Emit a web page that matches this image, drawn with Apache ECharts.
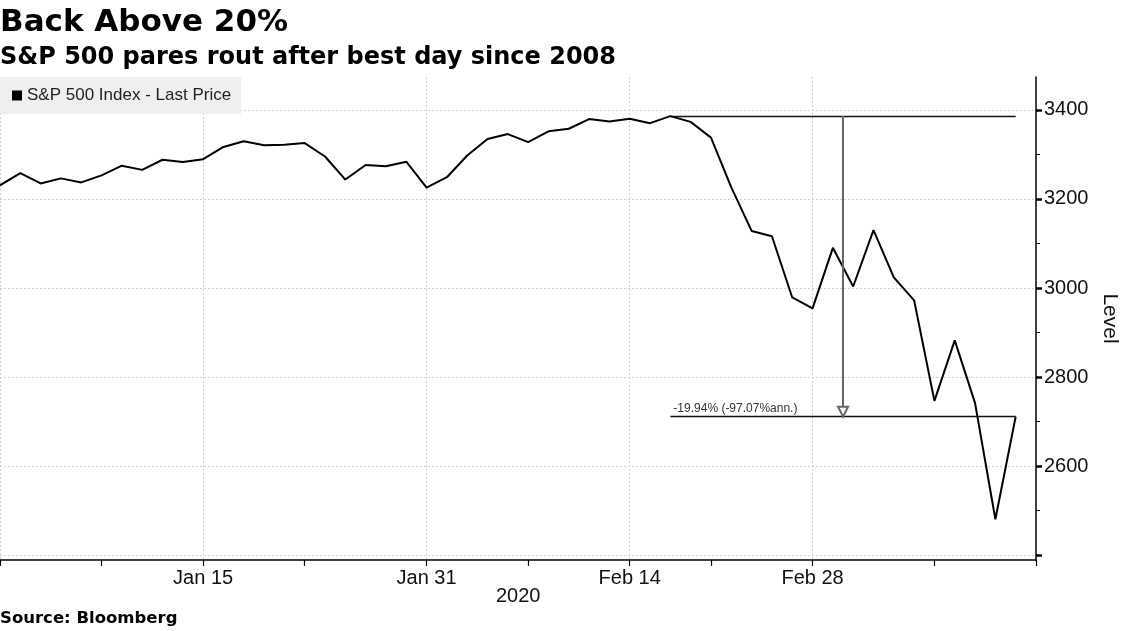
<!DOCTYPE html>
<html>
<head>
<meta charset="utf-8">
<script src="https://cdn.jsdelivr.net/npm/echarts@6/dist/echarts.min.js"></script>
<style>
html,body{margin:0;padding:0;background:#fff;}
#chart{width:1122px;height:631px;}
</style>
</head>
<body>
<div id="chart"></div>
<script>
// Trading days (Dec 31 2019 .. Mar 13 2020) plus one empty slot at the axis end
const categories = ["Dec 31","Jan 2","Jan 3","Jan 6","Jan 7","Jan 8","Jan 9","Jan 10","Jan 13","Jan 14",
  "Jan 15","Jan 16","Jan 17","Jan 21","Jan 22","Jan 23","Jan 24","Jan 27","Jan 28","Jan 29",
  "Jan 30","Jan 31","Feb 3","Feb 4","Feb 5","Feb 6","Feb 7","Feb 10","Feb 11","Feb 12",
  "Feb 13","Feb 14","Feb 18","Feb 19","Feb 20","Feb 21","Feb 24","Feb 25","Feb 26","Feb 27",
  "Feb 28","Mar 2","Mar 3","Mar 4","Mar 5","Mar 6","Mar 9","Mar 10","Mar 11","Mar 12",
  "Mar 13",""];
const spxValues = [3230.78,3257.85,3234.85,3246.28,3237.18,3253.05,3274.70,3265.35,3288.13,3283.15,
  3289.29,3316.81,3329.62,3320.79,3321.75,3325.54,3295.47,3243.63,3276.24,3273.40,
  3283.66,3225.52,3248.92,3297.59,3334.69,3345.78,3327.71,3352.09,3357.75,3379.45,
  3373.94,3380.16,3370.29,3386.15,3373.23,3337.75,3225.89,3128.21,3116.39,2978.76,
  2954.22,3090.23,3003.37,3130.12,3023.94,2972.37,2746.56,2882.23,2741.38,2480.64,
  2711.02];
const xLabelNames = ["Jan 15","Jan 31","Feb 14","Feb 28"];
const xTickNames = ["Dec 31","Jan 8","Jan 15","Jan 23","Jan 31","Feb 7","Feb 14","Feb 21","Feb 28","Mar 9",""];
const yMajorTicks = [2400,2600,2800,3000,3200,3400];
const yLabelValues = [2600,2800,3000,3200,3400];
const yMinorTicks = [2500,2700,2900,3100,3300];
const annualizedText = "-97.07";

const seriesName = "S&P 500 Index - Last Price";
const peakVal = Math.max(...spxValues);
const peakIdx = spxValues.indexOf(peakVal);
const lastIdx = spxValues.length - 1;
const lastVal = spxValues[lastIdx];
const pct = ((lastVal / peakVal - 1) * 100).toFixed(2);
const midIdx = (peakIdx + lastIdx) / 2;

const labelSet = new Set(xLabelNames.map(n => categories.indexOf(n)));
const tickSet = new Set(xTickNames.map(n => categories.lastIndexOf(n)));
const splitSet = new Set([0, ...labelSet]);

const axisFont = "Liberation Sans";
const chart = echarts.init(document.getElementById('chart'), null, {renderer: 'canvas'});
chart.setOption({
  animation: false,
  backgroundColor: '#ffffff',
  title: {
    text: 'Back Above 20%',
    subtext: 'S&P 500 pares rout after best day since 2008',
    left: 0, top: 7, padding: 0, itemGap: 8,
    textStyle: {fontFamily: 'DejaVu Sans', fontWeight: 'bold', fontSize: 31, color: '#000'},
    subtextStyle: {fontFamily: 'DejaVu Sans', fontWeight: 'bold', fontSize: 24, color: '#000'}
  },
  legend: {
    data: [seriesName],
    left: 0, top: 77,
    backgroundColor: '#efefef',
    padding: [10, 10, 10, 12],
    icon: 'rect', itemWidth: 10, itemHeight: 10,
    textStyle: {fontFamily: axisFont, fontSize: 17, color: '#222'},
    selectedMode: false
  },
  grid: {left: 0, right: 86, top: 77, bottom: 71, containLabel: false, outerBoundsMode: 'none'},
  xAxis: [{
    type: 'category',
    data: categories,
    boundaryGap: false,
    axisLine: {show: true, onZero: false, lineStyle: {color: '#000', width: 1.5}},
    axisTick: {show: true, length: 6, interval: (i) => tickSet.has(i), lineStyle: {color: '#000', width: 1.2}},
    axisLabel: {interval: (i) => labelSet.has(i), fontFamily: axisFont, fontSize: 20, color: '#111', margin: 8},
    splitLine: {show: true, interval: (i) => splitSet.has(i), lineStyle: {color: '#cfcfcf', type: [2, 2], width: 1}}
  }, {
    // hidden index axis used only to place the annotation between trading days
    type: 'value',
    min: 0, max: categories.length - 1,
    show: false,
    axisLine: {onZero: false}
  }],
  yAxis: [{
    type: 'value',
    position: 'right',
    min: 2389, max: 3474,
    name: 'Level',
    nameLocation: 'middle',
    nameRotate: -90,
    nameGap: 62,
    nameTextStyle: {fontFamily: axisFont, fontSize: 21, color: '#111'},
    axisLine: {show: true, onZero: false, lineStyle: {color: '#000', width: 1.5}},
    axisTick: {show: true, inside: false, length: 6, customValues: yMajorTicks, lineStyle: {color: '#000', width: 2.5}},
    axisLabel: {customValues: yLabelValues, formatter: (v) => String(v), fontFamily: axisFont, fontSize: 20, color: '#111', margin: 8},
    splitLine: {show: true, lineStyle: {color: '#cfcfcf', type: [2, 2], width: 1}}
  }, {
    type: 'value',
    position: 'right',
    min: 2389, max: 3474,
    axisLine: {show: false, onZero: false},
    axisTick: {show: true, length: 4, customValues: yMinorTicks, lineStyle: {color: '#000', width: 1}},
    axisLabel: {show: false},
    splitLine: {show: false}
  }],
  series: [{
    name: seriesName,
    type: 'line',
    data: spxValues,
    xAxisIndex: 0,
    yAxisIndex: 0,
    showSymbol: false,
    symbol: 'none',
    color: '#000',
    lineStyle: {color: '#000', width: 2},
    z: 3
  }, {
    name: 'drawdown',
    type: 'line',
    xAxisIndex: 1,
    yAxisIndex: 0,
    data: [],
    showSymbol: false,
    z: 2,
    markLine: {
      silent: true,
      symbol: 'none',
      animation: false,
      label: {show: false},
      data: [
        [{coord: [peakIdx, peakVal], lineStyle: {color: '#111', width: 1.3, type: 'solid'}},
         {coord: [lastIdx, peakVal]}],
        [{coord: [peakIdx, lastVal], lineStyle: {color: '#111', width: 1.3, type: 'solid'},
          label: {show: true, position: 'insideStartTop', distance: [3, 2],
                  formatter: pct + '% (' + annualizedText + '%ann.)',
                  fontFamily: axisFont, fontSize: 12, color: '#333'}},
         {coord: [lastIdx, lastVal]}],
        [{coord: [midIdx, peakVal], symbol: 'none', lineStyle: {color: '#666', width: 2, type: 'solid'}},
         {coord: [midIdx, lastVal], symbol: 'emptyTriangle', symbolSize: [10, 10], symbolOffset: [0, 5]}]
      ]
    }
  }],
  graphic: [
    {type: 'text', left: 496, top: 586, style: {text: '2020', fontFamily: axisFont, fontSize: 20, fill: '#111'}},
    {type: 'text', left: 0, top: 610, style: {text: 'Source: Bloomberg', fontFamily: 'DejaVu Sans', fontWeight: 'bold', fontSize: 16.5, fill: '#000'}}
  ]
});
</script>
</body>
</html>
